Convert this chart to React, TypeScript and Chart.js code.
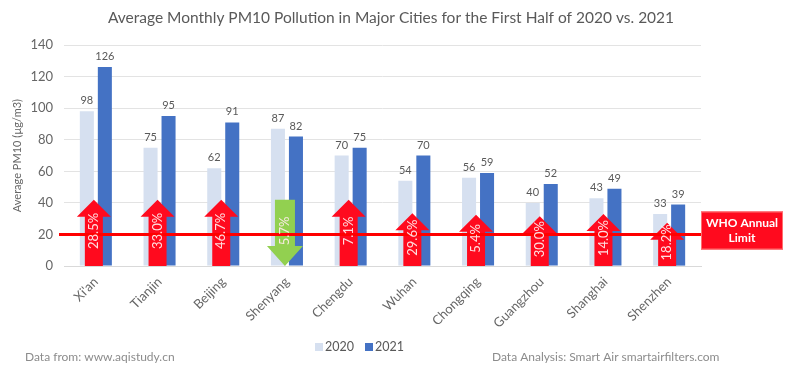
import React, { useEffect, useRef } from "react";
import { Chart, registerables } from "chart.js";

Chart.register(...registerables);

const FONT = "Lato, 'Open Sans', sans-serif";

const titleText = "Average Monthly PM10 Pollution in Major Cities for the First Half of 2020 vs. 2021";
const cities = ["Xi'an", "Tianjin", "Beijing", "Shenyang", "Chengdu", "Wuhan", "Chongqing", "Guangzhou", "Shanghai", "Shenzhen"];
const values2020 = [98, 75, 62, 87, 70, 54, 56, 40, 43, 33];
const values2021 = [126, 95, 91, 82, 75, 70, 59, 52, 49, 39];
const changeLabels = ["28.5%", "33.0%", "46.7%", "5.7%", "7.1%", "29.6%", "5.4%", "30.0%", "14.0%", "18.2%"];
const changeUp = [true, true, true, false, true, true, true, true, true, true];
const arrowTop = [42, 42, 42, 42, 42, 33.5, 32.5, 31.5, 33, 27.5];
const whoLimit = 20;
const yTicks = [0, 20, 40, 60, 80, 100, 120, 140];
const seriesNames = ["2020", "2021"];
const seriesColors = ["#d6e0f0", "#4472c4"];

export default function App() {
  const ref = useRef<HTMLCanvasElement>(null);

  useEffect(() => {
    const overlay = {
      id: "overlay",
      afterDatasetsDraw(chart: any) {
        const ctx = chart.ctx;
        const xs = chart.scales.x;
        const ys = chart.scales.y;
        // value labels
        ctx.save();
        ctx.font = `11px ${FONT}`;
        ctx.fillStyle = "#595959";
        ctx.textAlign = "center";
        ctx.textBaseline = "bottom";
        chart.data.datasets.forEach((ds: any, di: number) => {
          const meta = chart.getDatasetMeta(di);
          meta.data.forEach((bar: any, i: number) => {
            ctx.fillText(String(ds.data[i]), bar.x, bar.y - 5);
          });
        });
        ctx.restore();

        const y0 = ys.getPixelForValue(0);
        const arrows: { cx: number; yt: number }[] = [];
        ctx.save();
        cities.forEach((_, i) => {
          const cx = xs.getPixelForValue(i) - 2;
          const yt = ys.getPixelForValue(arrowTop[i]);
          arrows.push({ cx, yt });
          ctx.beginPath();
          if (changeUp[i]) {
            const sw = 9, hw = 17, hh = 17;
            ctx.moveTo(cx, yt);
            ctx.lineTo(cx + hw, yt + hh);
            ctx.lineTo(cx + sw, yt + hh);
            ctx.lineTo(cx + sw, y0);
            ctx.lineTo(cx - sw, y0);
            ctx.lineTo(cx - sw, yt + hh);
            ctx.lineTo(cx - hw, yt + hh);
            ctx.fillStyle = "#ff0a1e";
          } else {
            const sw = 10, hw = 18, hh = 20;
            ctx.moveTo(cx - sw, yt);
            ctx.lineTo(cx + sw, yt);
            ctx.lineTo(cx + sw, y0 - hh);
            ctx.lineTo(cx + hw, y0 - hh);
            ctx.lineTo(cx, y0);
            ctx.lineTo(cx - hw, y0 - hh);
            ctx.lineTo(cx - sw, y0 - hh);
            ctx.fillStyle = "#92d050";
          }
          ctx.closePath();
          ctx.fill();
        });

        // WHO line
        const yl = ys.getPixelForValue(whoLimit);
        ctx.strokeStyle = "#ff0000";
        ctx.lineWidth = 3;
        ctx.beginPath();
        ctx.moveTo(xs.left - 5, yl);
        ctx.lineTo(chart.chartArea.right, yl);
        ctx.stroke();

        // arrow texts
        ctx.font = `13px ${FONT}`;
        ctx.fillStyle = "rgba(255,235,235,0.95)";
        ctx.textAlign = "center";
        ctx.textBaseline = "middle";
        arrows.forEach((a, i) => {
          ctx.save();
          ctx.translate(a.cx, (a.yt + y0) / 2 - 2);
          ctx.rotate(-Math.PI / 2);
          ctx.fillText(changeLabels[i], 0, 0);
          ctx.restore();
        });

        // WHO box
        const bx = chart.chartArea.right;
        const bw = 82;
        ctx.fillStyle = "#ff0a1e";
        ctx.fillRect(bx, yl - 23, bw, 38);
        ctx.strokeStyle = "#ff6f6f";
        ctx.lineWidth = 1;
        ctx.strokeRect(bx + 0.5, yl - 22.5, bw - 1, 37);
        ctx.fillStyle = "#ffffff";
        ctx.font = `bold 12px ${FONT}`;
        ctx.fillText("WHO Annual", bx + bw / 2, yl - 11);
        ctx.fillText("Limit", bx + bw / 2, yl + 4);
        ctx.restore();
      },
      afterDraw(chart: any) {
        const ctx = chart.ctx;
        ctx.save();
        // title
        ctx.font = `15.5px ${FONT}`;
        ctx.fillStyle = "#595959";
        ctx.textAlign = "center";
        ctx.textBaseline = "middle";
        ctx.fillText(titleText, 391, 18);
        // legend
        ctx.font = `12.5px ${FONT}`;
        ctx.textAlign = "left";
        let lx = 315;
        const ly = 347;
        seriesNames.forEach((name, i) => {
          ctx.fillStyle = seriesColors[i];
          ctx.fillRect(lx, ly - 4, 8, 8);
          ctx.fillStyle = "#595959";
          ctx.fillText(name, lx + 10, ly);
          lx += 10 + ctx.measureText(name).width + 11;
        });
        // footnotes
        ctx.font = `12px ${FONT}`;
        ctx.fillStyle = "#8c8c8c";
        ctx.fillText("Data from: www.aqistudy.cn", 25, 357);
        ctx.fillText("Data Analysis: Smart Air smartairfilters.com", 492, 357);
        ctx.restore();
      },
    };

    const chart = new Chart(ref.current as HTMLCanvasElement, {
      type: "bar",
      data: {
        labels: cities,
        datasets: [
          {
            label: seriesNames[0],
            data: values2020,
            backgroundColor: seriesColors[0],
            barPercentage: 0.78,
            categoryPercentage: 0.565,
          },
          {
            label: seriesNames[1],
            data: values2021,
            backgroundColor: seriesColors[1],
            barPercentage: 0.78,
            categoryPercentage: 0.565,
          },
        ],
      },
      options: {
        responsive: false,
        animation: false,
        layout: { padding: { left: 8, right: 85, top: 45, bottom: 45 } },
        plugins: {
          title: { display: false },
          legend: { display: false },
          tooltip: { enabled: false },
        },
        scales: {
          x: {
            grid: { display: false },
            border: { display: true, color: "#d9d9d9" },
            ticks: {
              color: "#666666",
              font: { family: FONT, size: 13 },
              maxRotation: 45,
              minRotation: 45,
              padding: 0,
            },
          },
          y: {
            min: 0,
            max: 140,
            afterBuildTicks(scale: any) {
              scale.ticks = yTicks.map((v) => ({ value: v }));
            },
            afterFit(scale: any) {
              scale.width = 56;
            },
            grid: { color: "#e3e3e3", drawTicks: false },
            border: { display: false },
            ticks: {
              color: "#666666",
              font: { family: FONT, size: 13 },
              padding: 11,
            },
            title: {
              display: true,
              text: "Average PM10 (µg/m3)",
              color: "#666666",
              font: { family: FONT, size: 11 },
              padding: { top: 3, bottom: 0 },
            },
          },
        },
      },
      plugins: [overlay],
    });
    return () => chart.destroy();
  }, []);

  return (
    <div style={{ position: "absolute", left: 0, top: 0, width: 786, height: 376, background: "#ffffff" }}>
      <canvas ref={ref} width={786} height={376} style={{ width: 786, height: 376, display: "block" }} />
    </div>
  );
}
